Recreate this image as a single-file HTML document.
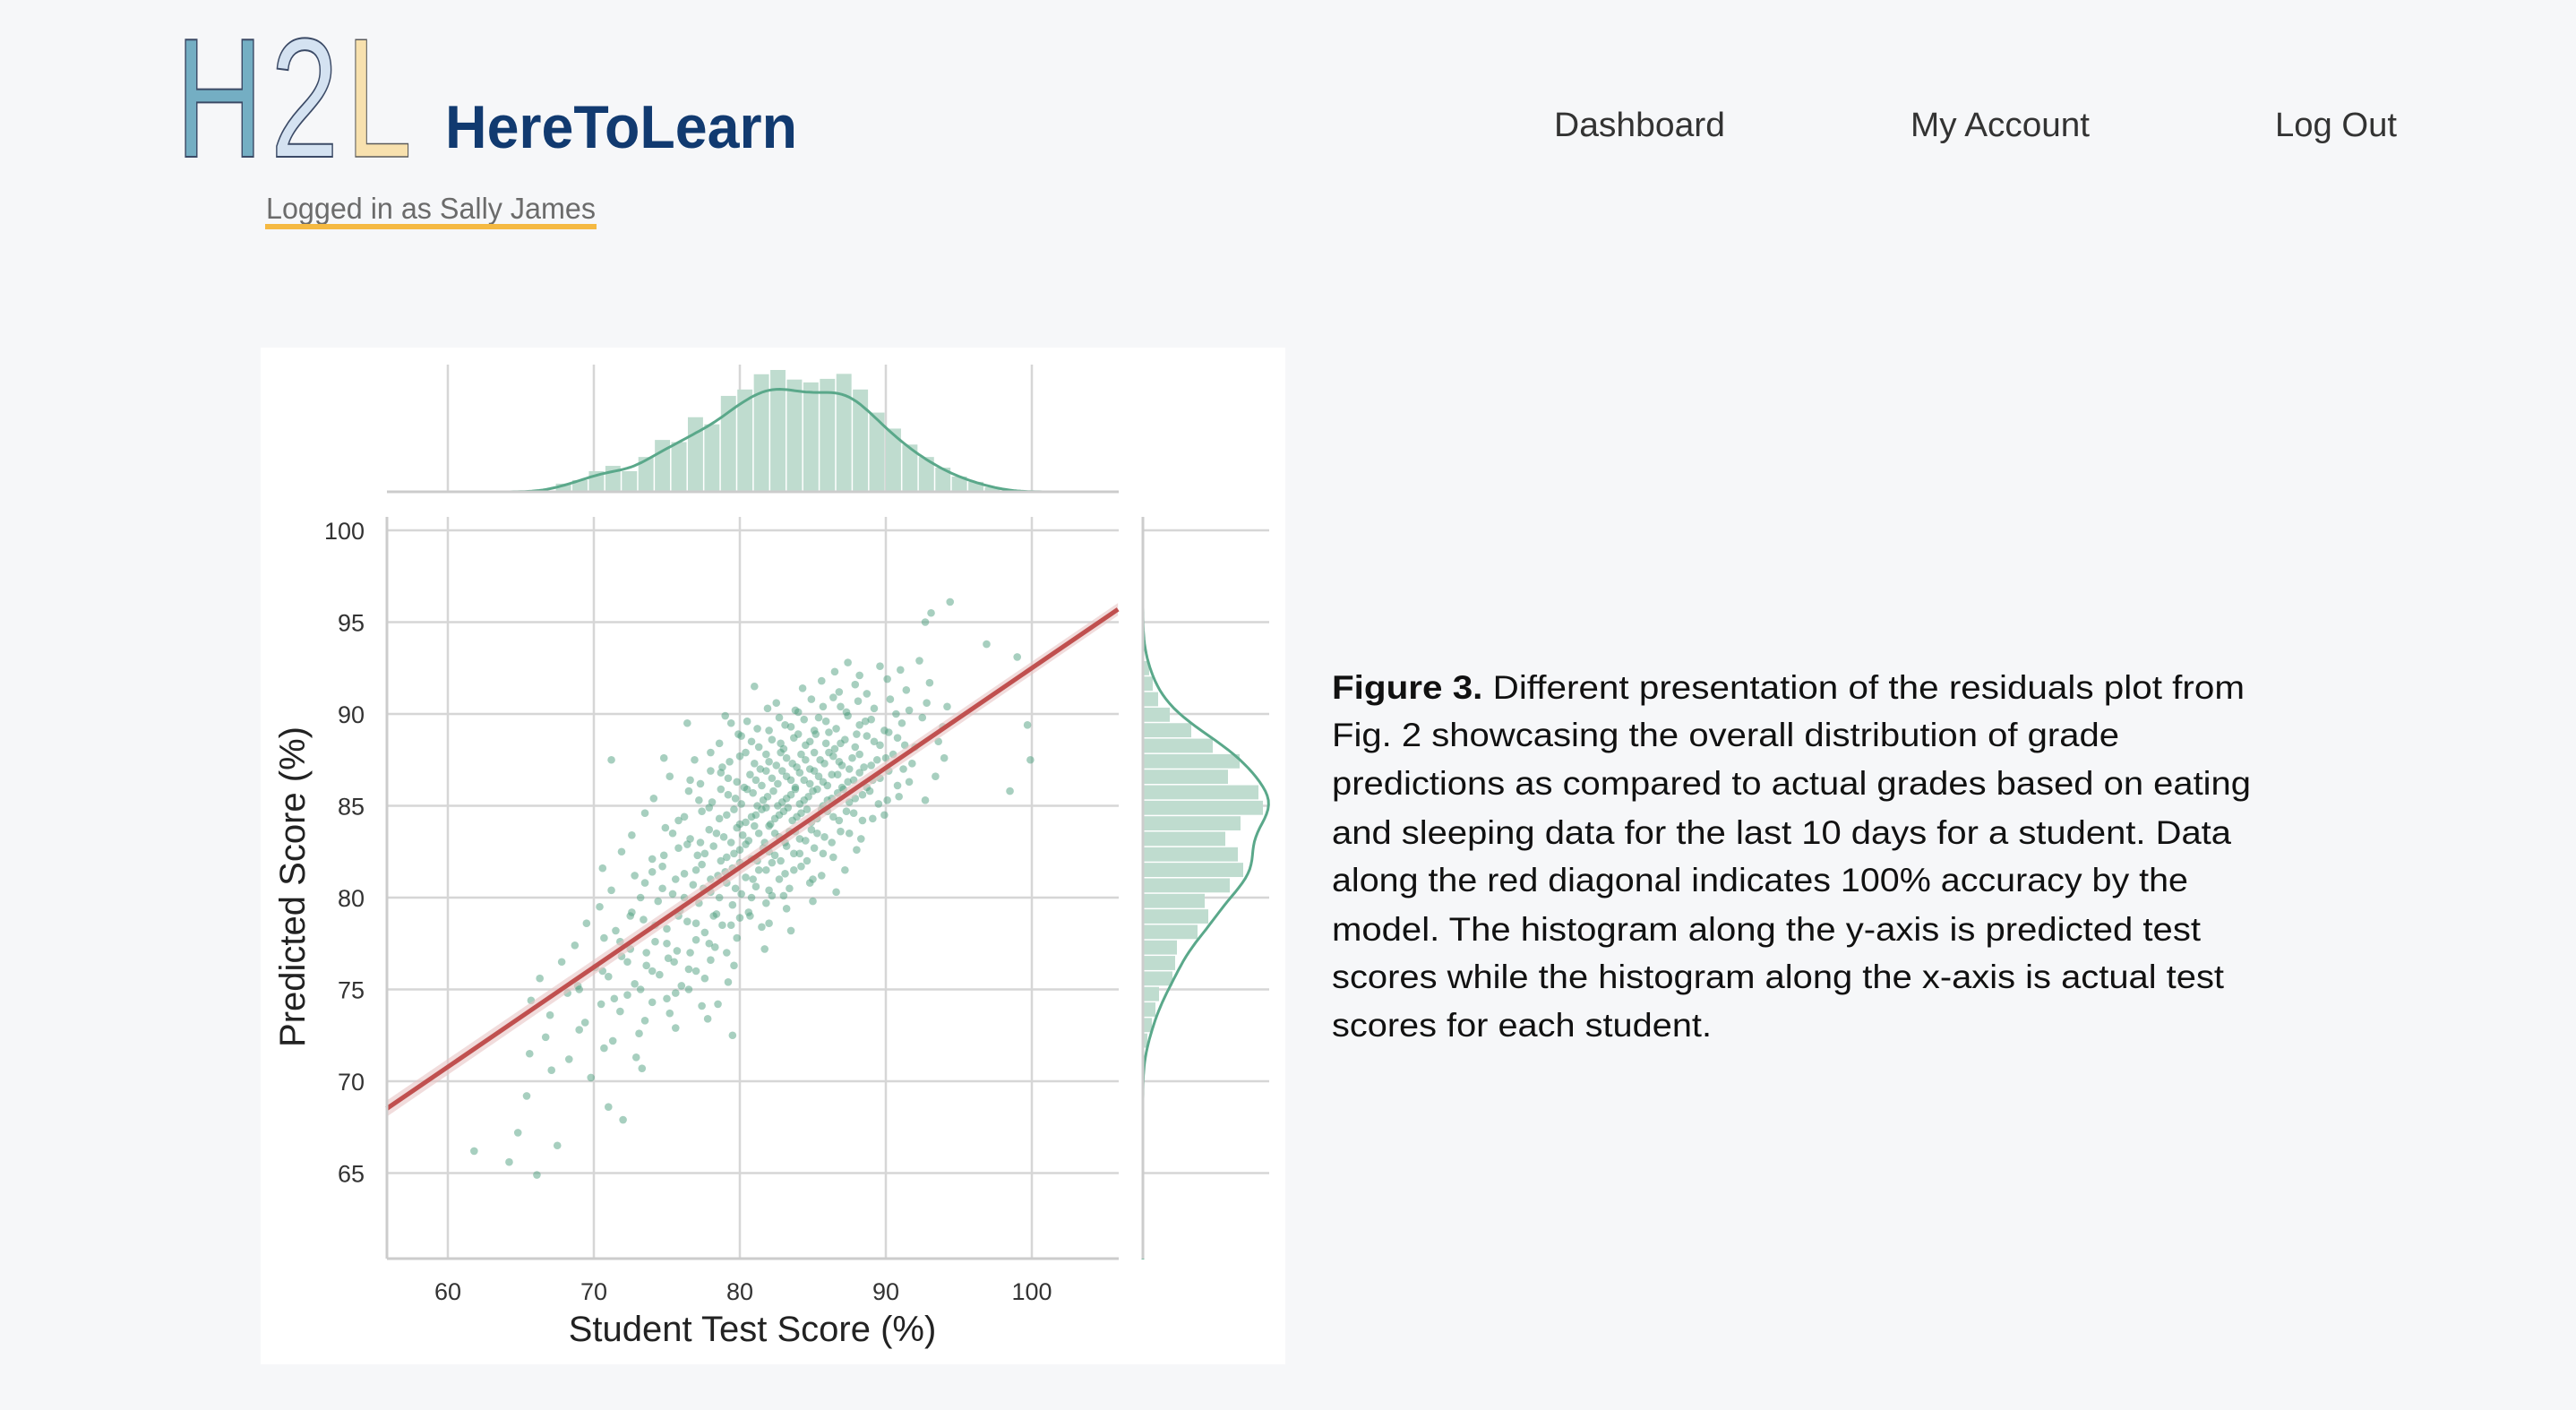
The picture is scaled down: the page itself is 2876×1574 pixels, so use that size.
<!DOCTYPE html>
<html><head><meta charset="utf-8"><style>
html,body{margin:0;padding:0;background:#f6f7f9;}
svg{display:block;font-family:"Liberation Sans",sans-serif;}
</style></head><body>
<svg id="page" width="2876" height="1574" viewBox="0 0 2876 1574">
<rect x="0" y="0" width="2876" height="1574" fill="#f6f7f9"/>
<g>
<text x="196" y="175" font-size="190" fill="#74aec3" stroke="#3b4a66" stroke-width="2" textLength="98" lengthAdjust="spacingAndGlyphs">H</text>
<text x="302" y="175" font-size="190" fill="#d4e2f1" stroke="#3b4a66" stroke-width="2" textLength="76" lengthAdjust="spacingAndGlyphs">2</text>
<text x="386" y="175" font-size="190" fill="#f8e1ae" stroke="#5a5a5a" stroke-width="1.5" textLength="74" lengthAdjust="spacingAndGlyphs">L</text>
</g>
<text x="497" y="165" font-size="68" font-weight="bold" fill="#113a70" textLength="393" lengthAdjust="spacingAndGlyphs">HereToLearn</text>
<text x="297" y="244" font-size="33" fill="#6b6b6b" textLength="368" lengthAdjust="spacingAndGlyphs">Logged in as Sally James</text>
<rect x="296" y="250" width="370" height="6" fill="#f5b942"/>
<text x="1735" y="152" font-size="38" fill="#333" textLength="191" lengthAdjust="spacingAndGlyphs">Dashboard</text>
<text x="2133" y="152" font-size="38" fill="#333" textLength="200" lengthAdjust="spacingAndGlyphs">My Account</text>
<text x="2540" y="152" font-size="38" fill="#333" textLength="136" lengthAdjust="spacingAndGlyphs">Log Out</text>

<rect x="291" y="388" width="1144" height="1135" fill="#ffffff"/>
<g id="chart"></g>

<g font-size="37" fill="#111">
<text x="1487" y="780" textLength="1019" lengthAdjust="spacingAndGlyphs"><tspan font-weight="bold">Figure 3.</tspan> Different presentation of the residuals plot from</text>
<text x="1487" y="833" textLength="879" lengthAdjust="spacingAndGlyphs">Fig. 2 showcasing the overall distribution of grade</text>
<text x="1487" y="887" textLength="1026" lengthAdjust="spacingAndGlyphs">predictions as compared to actual grades based on eating</text>
<text x="1487" y="942" textLength="1004" lengthAdjust="spacingAndGlyphs">and sleeping data for the last 10 days for a student. Data</text>
<text x="1487" y="995" textLength="956" lengthAdjust="spacingAndGlyphs">along the red diagonal indicates 100% accuracy by the</text>
<text x="1487" y="1050" textLength="970" lengthAdjust="spacingAndGlyphs">model. The histogram along the y-axis is predicted test</text>
<text x="1487" y="1103" textLength="996" lengthAdjust="spacingAndGlyphs">scores while the histogram along the x-axis is actual test</text>
<text x="1487" y="1157" textLength="424" lengthAdjust="spacingAndGlyphs">scores for each student.</text>
</g>
</svg>
<script>
// ---- data ----
const xTicks = [60, 70, 80, 90, 100];
const yTicks = [65, 70, 75, 80, 85, 90, 95, 100];
const topBinStart = 67.4;
const topBinWidth = 1.13;
const topCounts = [23,33,58,73,58,98,146,140,210,190,270,288,331,343,316,308,318,332,288,223,178,133,98,68,43,28,13];
const rightBinTop = 92.88;
const rightBinWidth = 0.845;
const rightCounts = [7,11,17,30,54,78,108,95,129,134,109,92,106,112,97,69,73,61,38,36,33,18,14,10,5];
const regStart = [55.8, 68.5];
const regEnd = [105.9, 95.7];
const points = [
[61.8,66.2],[64.2,65.6],[64.8,67.2],[66.1,64.9],[67.5,66.5],[65.4,69.2],[71.0,68.6],[72.0,67.9],
[94.4,96.1],[93.1,95.5],[92.7,95.0],[96.9,93.8],[99.0,93.1],[99.7,89.4],[99.9,87.5],[98.5,85.8],
[81.0,91.5],[71.2,87.5],[76.4,89.5],[74.8,87.6],
[86.5,92.3],[87.4,92.8],[88.2,92.1],[89.6,92.6],[91.0,92.4],[92.3,92.9],
[84.3,91.4],[85.6,91.8],[86.8,91.2],[87.9,91.6],[88.7,91.1],[90.1,91.9],[91.4,91.3],[93.0,91.7],
[82.5,90.6],[83.8,90.2],[84.9,90.8],[85.7,90.4],[86.4,90.9],[87.3,90.1],[88.1,90.7],[89.2,90.3],[90.3,90.8],[91.6,90.2],[92.8,90.6],[94.2,90.4],
[79.4,89.5],[81.2,89.2],[82.7,89.8],[83.5,89.3],[84.4,89.7],[85.1,89.1],[85.9,89.6],[86.6,89.2],[87.4,89.9],[88.2,89.4],[89.0,89.7],[89.9,89.1],[91.1,89.5],[92.5,89.8],[93.9,89.3],
[78.6,88.4],[80.1,88.8],[81.3,88.2],[82.2,88.6],[83.0,88.1],[83.7,88.7],[84.5,88.3],[85.2,88.9],[85.9,88.4],[86.5,88.1],[87.2,88.6],[87.9,88.2],[88.7,88.8],[89.6,88.3],[90.8,88.7],[92.0,88.2],[93.6,88.5],
[76.9,87.5],[78.8,87.1],[80.0,87.7],[81.0,87.3],[81.8,87.8],[82.5,87.2],[83.2,87.6],[83.9,87.1],[84.5,87.5],[85.1,87.9],[85.8,87.3],[86.4,87.7],[87.0,87.2],[87.7,87.6],[88.5,87.1],[89.4,87.5],[90.5,87.8],[91.8,87.3],[94.0,87.6],
[75.2,86.6],[77.3,86.2],[78.7,86.8],[79.8,86.3],[80.7,86.7],[81.5,86.1],[82.2,86.5],[82.9,86.9],[83.5,86.4],[84.1,86.8],[84.8,86.2],[85.4,86.6],[86.0,86.1],[86.7,86.7],[87.4,86.3],[88.2,86.8],[89.1,86.4],[90.2,86.9],[91.6,86.3],[93.4,86.6],
[74.1,85.4],[76.5,85.8],[78.1,85.2],[79.2,85.6],[80.1,85.1],[80.9,85.7],[81.6,85.3],[82.3,85.8],[82.9,85.2],[83.5,85.6],[84.1,85.1],[84.7,85.5],[85.3,85.9],[86.0,85.3],[86.7,85.7],[87.5,85.2],[88.4,85.6],[89.5,85.1],[90.9,85.5],[92.7,85.3],
[73.5,84.6],[75.8,84.2],[77.4,84.7],[78.6,84.3],[79.6,84.8],[80.4,84.1],[81.1,84.5],[81.8,84.9],[82.4,84.3],[83.0,84.7],[83.6,84.2],[84.2,84.6],[84.9,84.1],[85.6,84.8],[86.4,84.4],[87.3,84.7],[88.4,84.2],[89.9,84.5],
[72.6,83.4],[74.9,83.8],[76.6,83.2],[77.9,83.7],[78.9,83.3],[79.8,83.8],[80.6,83.1],[81.3,83.5],[82.0,83.9],[82.7,83.3],[83.4,83.6],[84.1,83.2],[84.9,83.7],[85.8,83.3],[86.9,83.6],[88.3,83.2],
[71.9,82.5],[74.0,82.1],[75.8,82.7],[77.1,82.3],[78.2,82.8],[79.1,82.2],[80.0,82.6],[80.8,82.1],[81.6,82.7],[82.4,82.3],[83.2,82.8],[84.1,82.4],[85.1,82.7],[86.4,82.2],[88.0,82.6],
[70.6,81.6],[72.8,81.2],[74.7,81.7],[76.2,81.3],[77.4,81.8],[78.5,81.2],[79.5,81.6],[80.4,81.1],[81.3,81.5],[82.2,81.9],[83.1,81.3],[84.2,81.7],[85.6,81.2],[87.2,81.5],
[71.2,80.4],[73.5,80.8],[75.4,80.2],[76.8,80.7],[78.0,80.3],[79.1,80.8],[80.1,80.2],[81.1,80.6],[82.2,80.1],[83.4,80.5],[84.8,80.8],[86.6,80.3],
[70.4,79.5],[72.6,79.2],[74.4,79.8],[75.9,79.3],[77.2,79.7],[78.4,79.1],[79.5,79.6],[80.6,79.2],[81.8,79.7],[83.2,79.4],[85.0,79.8],
[69.5,78.6],[71.5,78.2],[73.4,78.8],[75.0,78.3],[76.4,78.7],[77.6,78.1],[78.8,78.5],[80.0,78.9],[81.5,78.4],[83.5,78.2],
[68.7,77.4],[70.7,77.8],[72.5,77.2],[74.2,77.6],[75.7,77.1],[77.0,77.7],[78.3,77.3],[79.8,77.8],[81.7,77.2],
[67.8,76.5],[70.1,76.2],[71.9,76.8],[73.6,76.3],[75.1,76.7],[76.5,76.1],[78.0,76.6],[79.6,76.3],
[66.3,75.6],[68.9,75.2],[71.0,75.7],[72.8,75.3],[74.5,75.8],[76.0,75.2],[77.6,75.6],[79.2,75.4],
[65.7,74.4],[68.2,74.8],[70.5,74.2],[72.3,74.7],[74.0,74.3],[75.6,74.8],[77.4,74.1],
[67.0,73.6],[69.4,73.2],[71.8,73.8],[73.5,73.3],[75.2,73.7],[77.8,73.4],
[66.7,72.4],[69.0,72.8],[71.3,72.2],[73.1,72.6],[75.6,72.9],[79.5,72.5],
[65.6,71.5],[68.3,71.2],[70.7,71.8],[72.9,71.3],[67.1,70.6],[69.8,70.2],[73.3,70.7],
[79.0,89.9],[80.5,89.6],[81.9,90.3],[83.1,89.4],[84.0,90.1],[85.4,89.8],[86.9,90.4],[88.6,89.6],[90.7,90.0],
[79.9,88.9],[80.8,88.5],[82.0,89.1],[82.8,88.4],[84.0,88.9],[84.8,88.5],[86.1,89.0],[86.9,88.4],[88.0,88.9],[89.2,88.5],[90.2,89.0],[91.3,88.3],
[78.0,87.9],[79.3,87.4],[80.4,87.9],[81.4,87.0],[82.0,87.4],[82.8,87.9],[83.6,87.3],[84.2,87.8],[84.8,87.0],[85.5,87.5],[86.1,87.9],[86.8,87.4],[87.5,87.0],[88.2,87.8],[89.0,87.2],[90.0,87.6],[91.2,87.0],
[76.6,86.4],[78.0,86.9],[79.2,86.5],[80.3,86.0],[81.1,86.4],[81.8,86.9],[82.6,86.2],[83.2,86.6],[83.8,86.0],[84.4,86.4],[85.1,86.9],[85.7,86.3],[86.3,86.7],[87.0,86.0],[87.8,86.4],[88.7,86.0],[89.6,86.5],[90.8,86.1],
[77.2,85.3],[78.7,85.9],[79.7,85.4],[80.5,85.9],[81.2,85.0],[81.9,85.5],[82.6,85.0],[83.2,85.4],[83.8,85.9],[84.4,85.3],[85.0,85.8],[85.7,85.0],[86.3,85.4],[87.1,85.9],[87.9,85.4],[88.9,85.8],[90.1,85.3],
[76.2,84.4],[77.9,84.9],[79.1,84.5],[80.0,84.0],[80.8,84.4],[81.5,84.8],[82.1,84.0],[82.7,84.5],[83.3,84.9],[83.9,84.4],[84.6,84.8],[85.3,84.3],[86.0,84.7],[86.8,84.2],[87.8,84.6],[89.1,84.3],
[75.4,83.5],[77.3,83.0],[78.4,83.5],[79.4,83.0],[80.2,83.4],[81.0,83.9],[81.7,83.0],[82.4,83.5],[83.1,83.0],[83.8,83.6],[84.5,83.1],[85.3,83.5],[86.3,83.0],[87.5,83.5],
[74.8,82.3],[76.4,82.9],[77.6,82.4],[78.7,82.0],[79.6,82.4],[80.4,82.9],[81.2,82.0],[82.0,82.5],[82.8,82.0],[83.7,82.4],[84.6,82.0],[85.7,82.4],
[74.0,81.4],[75.6,81.0],[77.0,81.5],[78.0,81.0],[79.0,81.4],[80.0,81.9],[80.9,81.0],[81.8,81.5],[82.7,81.0],[83.7,81.5],[85.0,81.0],
[73.2,80.0],[74.7,80.5],[76.2,80.0],[77.5,80.5],[78.6,80.0],[79.7,80.5],[80.8,80.0],[82.0,80.4],[83.0,80.1],
[72.5,79.0],[74.2,78.5],[75.8,79.0],[77.0,78.6],[78.2,79.0],[79.4,78.5],[80.7,79.0],[82.0,78.6],
[71.8,77.6],[73.6,77.0],[75.0,77.5],[76.6,77.0],[77.9,77.5],[79.1,77.0],
[70.6,76.0],[72.3,76.5],[74.0,76.0],[75.5,76.5],[77.0,76.0],
[69.0,75.0],[71.4,74.5],[73.2,75.0],[75.0,74.5],[76.5,75.0],[78.5,74.2]
];

// ---- scales ----
const xPx = v => 500 + (v - 60) * 16.3;
const yPx = v => 592 + (100 - v) * 20.5;
const PL = 432, PR = 1249, PT = 577, PB = 1405;
const TOPBASE = 549, TOPGRID = 407, topScale = 136 / 343;
const RSPINE = 1276, RGRID = 1417, rightScale = 1.0;
const NS = 'http://www.w3.org/2000/svg';
const chart = document.getElementById('chart');
function mk(tag, attrs, parent) {
  const e = document.createElementNS(NS, tag);
  for (const k in attrs) e.setAttribute(k, attrs[k]);
  (parent || chart).appendChild(e);
  return e;
}
const GRID = '#d6d6d6';

xTicks.forEach(t => {
  const l = mk('line', {x1: xPx(t), x2: xPx(t), y1: PT, y2: PB, stroke: GRID, 'stroke-width': 2.5});
  
  
  const l2 = mk('line', {x1: xPx(t), x2: xPx(t), y1: TOPGRID, y2: TOPBASE, stroke: GRID, 'stroke-width': 2.5});
  
  
  const tx = mk('text', {x: xPx(t), y: 1451, 'font-size': 27, fill: '#333', 'text-anchor': 'middle'});
  tx.textContent = t;
  
  
});
yTicks.forEach(t => {
  const l = mk('line', {x1: PL, x2: PR, y1: yPx(t), y2: yPx(t), stroke: GRID, 'stroke-width': 2.5});
  
  
  const l2 = mk('line', {x1: RSPINE, x2: RGRID, y1: yPx(t), y2: yPx(t), stroke: GRID, 'stroke-width': 2.5});
  
  
  const tx = mk('text', {x: 407, y: yPx(t) + 10, 'font-size': 27, fill: '#333', 'text-anchor': 'end'});
  tx.textContent = t;
  
  
});

const HFILL = '#bfdccf', KDE = '#5aa88a';
topCounts.forEach((c, i) => {
  const x0 = xPx(topBinStart + i * topBinWidth), x1 = xPx(topBinStart + (i + 1) * topBinWidth);
  const r = mk('rect', {x: x0, y: TOPBASE - c * topScale, width: x1 - x0 - 1.5, height: c * topScale, fill: HFILL});
  
  
});
function kde(counts, start, w, v, h) {
  let s = 0;
  counts.forEach((c, i) => {
    const m = start + (i + 0.5) * w;
    s += c * w * Math.exp(-0.5 * ((v - m) / h) ** 2) / (h * Math.sqrt(2 * Math.PI));
  });
  return s / w;
}
let d = '';
for (let v = 58; v <= 102; v += 0.25) {
  const k = kde(topCounts, topBinStart, topBinWidth, v, 1.25);
  d += (d ? 'L' : 'M') + xPx(v).toFixed(1) + ',' + (TOPBASE - k * topScale).toFixed(1);
}
const tk = mk('path', {d: d, fill: 'none', stroke: KDE, 'stroke-width': 3});


const tb = mk('line', {x1: PL, x2: PR, y1: TOPBASE, y2: TOPBASE, stroke: '#cccccc', 'stroke-width': 3});



rightCounts.forEach((c, i) => {
  const yTop = yPx(rightBinTop - i * rightBinWidth), yBot = yPx(rightBinTop - (i + 1) * rightBinWidth);
  const r = mk('rect', {x: RSPINE, y: yTop, width: c * rightScale, height: yBot - yTop - 1.5, fill: HFILL});
  
  
});
const rStart = rightBinTop - rightCounts.length * rightBinWidth;
const rRev = rightCounts.slice().reverse();
let d2 = '';
for (let v = 60.3; v <= 98; v += 0.25) {
  const k = kde(rRev, rStart, rightBinWidth, v, 1.1);
  d2 += (d2 ? 'L' : 'M') + (RSPINE + k * rightScale).toFixed(1) + ',' + yPx(v).toFixed(1);
}
const rk = mk('path', {d: d2, fill: 'none', stroke: KDE, 'stroke-width': 3});


const rs = mk('line', {x1: RSPINE, x2: RSPINE, y1: PT, y2: PB, stroke: '#cccccc', 'stroke-width': 3});



points.forEach(p => {
  const c = mk('circle', {cx: xPx(p[0]), cy: yPx(p[1]), r: 4.3, fill: '#4f9f80', 'fill-opacity': 0.5});
  
  
});

const band = mk('polygon', {points: [xPx(regStart[0]), yPx(regStart[1]) - 9, xPx(regEnd[0]), yPx(regEnd[1]) - 7, xPx(regEnd[0]), yPx(regEnd[1]) + 7, xPx(regStart[0]), yPx(regStart[1]) + 9].join(' '), fill: '#e8c4c4', 'fill-opacity': 0.6});


const rl = mk('line', {x1: xPx(regStart[0]), y1: yPx(regStart[1]), x2: xPx(regEnd[0]), y2: yPx(regEnd[1]), stroke: '#c0504f', 'stroke-width': 5});



const ls = mk('line', {x1: PL, x2: PL, y1: PT, y2: PB, stroke: '#cccccc', 'stroke-width': 3});


const bs = mk('line', {x1: PL, x2: PR, y1: PB, y2: PB, stroke: '#cccccc', 'stroke-width': 3});



const xt = mk('text', {x: 840, y: 1497, 'font-size': 40, fill: '#222', 'text-anchor': 'middle'});
xt.textContent = 'Student Test Score (%)';


const yt = mk('text', {x: 0, y: 0, 'font-size': 40, fill: '#222', 'text-anchor': 'middle', transform: 'translate(340,990) rotate(-90)'});
yt.textContent = 'Predicted Score (%)';


</script>
</body></html>
